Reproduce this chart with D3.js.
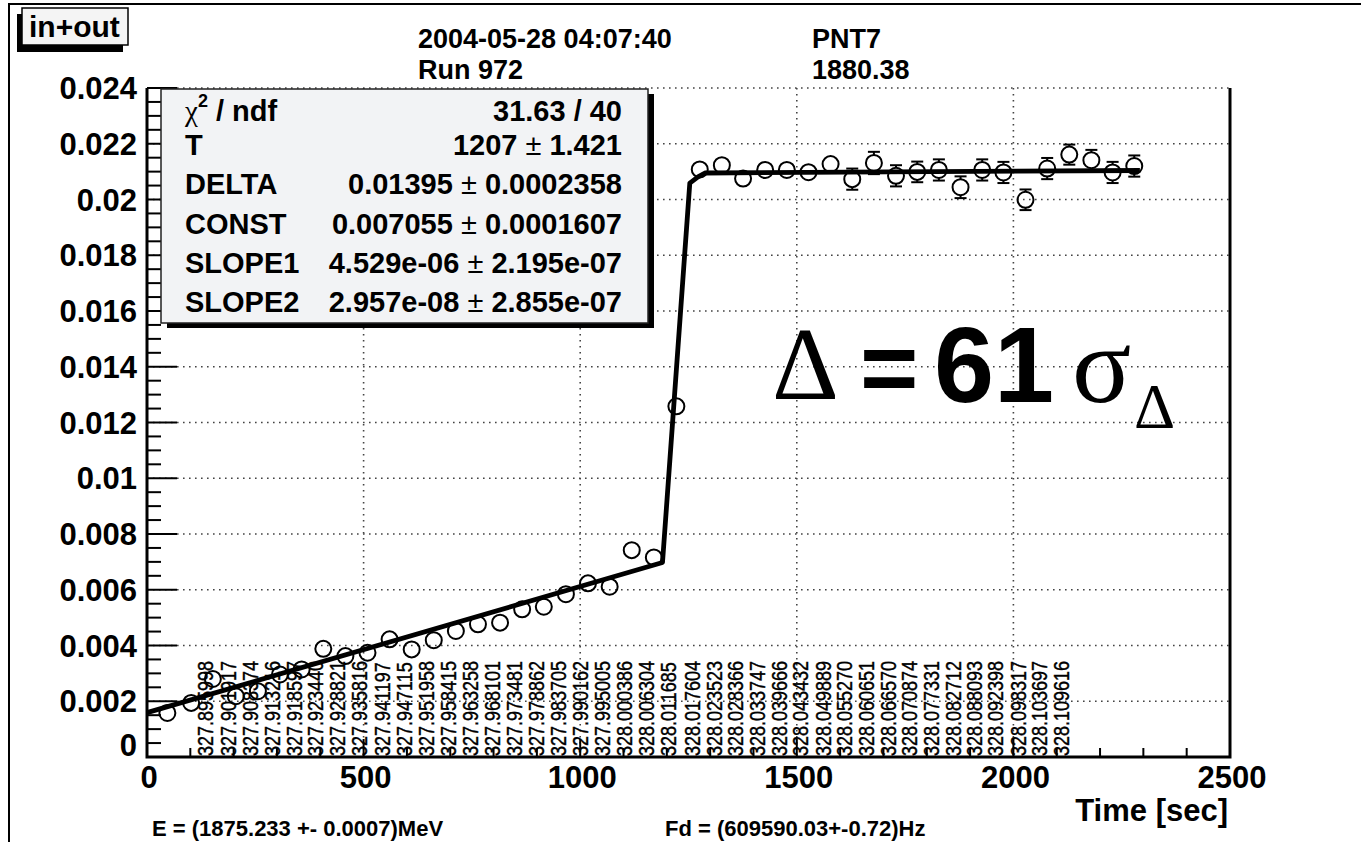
<!DOCTYPE html>
<html lang="en">
<head>
    <meta charset="UTF-8">
    <title>in+out - Run 972</title>
    <style>
        body {
            margin: 0;
            padding: 0;
            background-color: #fff;
        }

        svg text {
            font-family: 'Liberation Sans', Arial, Helvetica, sans-serif;
            fill: #000;
        }

        .bold {
            font-weight: bold;
        }

        .serif {
            font-family: 'Liberation Serif', 'DejaVu Serif', serif;
        }
    </style>
</head>
<body>

    <div id="chart"></div>

    <script src="https://d3js.org/d3.v7.min.js"></script>
    <script>
        // measured points (time in sec, asymmetry value, error)
        const pointTime = [47, 102, 152, 205, 256, 307, 357, 407, 458, 509, 560, 611,
            662, 713, 764, 815, 866, 916, 967, 1018, 1068, 1119, 1170, 1222,
            1276, 1327, 1376, 1427, 1477, 1527, 1578, 1628, 1678, 1729, 1778,
            1828, 1878, 1928, 1977, 2028, 2078, 2129, 2180, 2229, 2279];
        const pointValue = [0.00158, 0.00194, 0.00280, 0.00218, 0.00236, 0.00296, 0.00314,
            0.00388, 0.00362, 0.00374, 0.00422, 0.00386, 0.00419, 0.00452, 0.00476,
            0.00482, 0.00530, 0.00539, 0.00584, 0.00623, 0.00611, 0.00742, 0.00716,
            0.01258,
            0.02108, 0.02123, 0.02075, 0.02106, 0.02106, 0.02098, 0.02127, 0.02073,
            0.02131, 0.02085, 0.02099, 0.02106, 0.02044, 0.02106, 0.02097, 0.01999,
            0.02111, 0.02161, 0.02141, 0.02097, 0.02120];
        const pointError = [0.00012, 0.00012, 0.00013, 0.00013, 0.00013, 0.00014, 0.00014,
            0.00014, 0.00015, 0.00015, 0.00015, 0.00016, 0.00016, 0.00016, 0.00017,
            0.00017, 0.00017, 0.00018, 0.00018, 0.00018, 0.00019, 0.00019, 0.00020,
            0.00021,
            0.00025, 0.00025, 0.00026, 0.00026, 0.00026, 0.00027, 0.00027, 0.00038,
            0.00040, 0.00038, 0.00037, 0.00038, 0.00039, 0.00038, 0.00038, 0.00037,
            0.00038, 0.00036, 0.00037, 0.00038, 0.00038];

        // energy labels written over points 3..42
        const energyLabels = ["327.895998", "327.901917", "327.908374", "327.913216",
            "327.918597", "327.923440", "327.928821", "327.935816", "327.941197",
            "327.947115", "327.951958", "327.958415", "327.963258", "327.968101",
            "327.973481", "327.978862", "327.983705", "327.990162", "327.995005",
            "328.000386", "328.006304", "328.011685", "328.017604", "328.023523",
            "328.028366", "328.033747", "328.039666", "328.043432", "328.049889",
            "328.055270", "328.060651", "328.066570", "328.070874", "328.077331",
            "328.082712", "328.088093", "328.092398", "328.098317", "328.103697",
            "328.109616"];

        // fitted curve
        const fitTime = [0, 1190, 1253, 1272, 1288, 2292];
        const fitValue = [0.00159, 0.00698, 0.02059, 0.02081, 0.02095, 0.02104];

        // fit statistics box
        const statNames = ["/ ndf", "T", "DELTA", "CONST", "SLOPE1", "SLOPE2"];
        const statValues = [["31.63 / 40"], ["1207", "1.421"], ["0.01395", "0.0002358"],
            ["0.007055", "0.0001607"], ["4.529e-06", "2.195e-07"], ["2.957e-08", "2.855e-07"]];

        const xTicks = [0, 500, 1000, 1500, 2000, 2500];
        const yTicks = [0, 0.002, 0.004, 0.006, 0.008, 0.01, 0.012, 0.014, 0.016, 0.018, 0.02, 0.022, 0.024];
        const yTickLabels = ["0", "0.002", "0.004", "0.006", "0.008", "0.01", "0.012", "0.014",
            "0.016", "0.018", "0.02", "0.022", "0.024"];

        const width = 1361;
        const height = 842;
        const plot = { left: 147, right: 1230, top: 88, bottom: 757 };

        const x = d3.scaleLinear().domain([0, 2500]).range([plot.left, plot.right]);
        const y = d3.scaleLinear().domain([0, 0.024]).range([plot.bottom, plot.top]);

        const svg = d3.select("#chart")
            .append("svg")
            .attr("width", width)
            .attr("height", height);

        // outer canvas border
        svg.append("path")
            .attr("d", `M9,${height} L9,4 L${width},4`)
            .attr("fill", "none")
            .attr("stroke", "#000")
            .attr("stroke-width", 2);

        // grid
        const grid = svg.append("g")
            .attr("stroke", "#444")
            .attr("stroke-width", 1.6)
            .attr("stroke-dasharray", "1.6,4.4");
        grid.selectAll("line.gy")
            .data(yTicks.slice(1))
            .enter().append("line")
            .attr("x1", plot.left).attr("x2", plot.right)
            .attr("y1", d => y(d)).attr("y2", d => y(d));
        grid.selectAll("line.gx")
            .data(xTicks.slice(1, -1))
            .enter().append("line")
            .attr("x1", d => x(d)).attr("x2", d => x(d))
            .attr("y1", plot.top).attr("y2", plot.bottom);

        // vertical energy labels (glyphs a bit wider, like the original)
        svg.append("g")
            .selectAll("text")
            .data(energyLabels)
            .enter().append("text")
            .attr("transform", (d, i) => `translate(${x(pointTime[i + 2])},${plot.bottom - 1}) rotate(-90) scale(1,1.2)`)
            .attr("font-size", 18)
            .attr("stroke", "#000")
            .attr("stroke-width", 0.35)
            .text(d => d);

        // axis ticks
        const ticks = svg.append("g").attr("stroke", "#000").attr("stroke-width", 2);
        ticks.selectAll("line.ym")
            .data(d3.range(0, 49).map(i => i * 0.0005))
            .enter().append("line")
            .attr("x1", plot.left)
            .attr("x2", (d, i) => plot.left + (i % 4 === 0 ? 30 : 14))
            .attr("y1", d => y(d)).attr("y2", d => y(d));
        ticks.selectAll("line.xm")
            .data(d3.range(0, 26).map(i => i * 100))
            .enter().append("line")
            .attr("x1", d => x(d)).attr("x2", d => x(d))
            .attr("y1", plot.bottom)
            .attr("y2", (d, i) => plot.bottom - (i % 5 === 0 ? 18 : 9));

        // frame: left axis, bottom axis, right edge
        svg.append("path")
            .attr("d", `M${plot.left},${plot.top} L${plot.left},${plot.bottom} L${plot.right},${plot.bottom} L${plot.right},${plot.top}`)
            .attr("fill", "none")
            .attr("stroke", "#000")
            .attr("stroke-width", 3);

        // tick labels
        svg.append("g")
            .selectAll("text")
            .data(yTicks)
            .enter().append("text")
            .attr("class", "bold")
            .attr("x", 137)
            .attr("y", (d, i) => y(d) + (i === 0 ? -1 : 11))
            .attr("text-anchor", "end")
            .attr("font-size", 31)
            .text((d, i) => yTickLabels[i]);

        svg.append("g")
            .selectAll("text")
            .data(xTicks)
            .enter().append("text")
            .attr("class", "bold")
            .attr("x", d => x(d) + 2)
            .attr("y", 788)
            .attr("text-anchor", "middle")
            .attr("font-size", 31)
            .text(d => d);

        svg.append("text")
            .attr("class", "bold")
            .attr("x", 1228)
            .attr("y", 821)
            .attr("text-anchor", "end")
            .attr("font-size", 31)
            .text("Time [sec]");

        // error bars (only the part outside the marker shows)
        const r = 8;
        const bars = svg.append("g").attr("stroke", "#000").attr("stroke-width", 2);
        pointTime.forEach((t, i) => {
            const cx = x(t);
            const cy = y(pointValue[i]);
            const e = y(0) - y(pointError[i]);
            if (e <= r) return;
            bars.append("line").attr("x1", cx).attr("x2", cx).attr("y1", cy - e).attr("y2", cy - r);
            bars.append("line").attr("x1", cx).attr("x2", cx).attr("y1", cy + r).attr("y2", cy + e);
            bars.append("line").attr("x1", cx - 6).attr("x2", cx + 6).attr("y1", cy - e).attr("y2", cy - e);
            bars.append("line").attr("x1", cx - 6).attr("x2", cx + 6).attr("y1", cy + e).attr("y2", cy + e);
        });

        // markers
        svg.append("g")
            .selectAll("circle")
            .data(pointTime)
            .enter().append("circle")
            .attr("cx", d => x(d))
            .attr("cy", (d, i) => y(pointValue[i]))
            .attr("r", r)
            .attr("fill", "none")
            .attr("stroke", "#000")
            .attr("stroke-width", 2);

        // fit
        const line = d3.line()
            .x((d, i) => x(fitTime[i]))
            .y(d => y(d));
        svg.append("path")
            .attr("d", line(fitValue))
            .attr("fill", "none")
            .attr("stroke", "#000")
            .attr("stroke-width", 4.8)
            .attr("stroke-linejoin", "round");

        // stats box
        const box = { x: 161, y: 89, w: 487, h: 234 };
        svg.append("rect")
            .attr("x", box.x + 6).attr("y", box.y + 5)
            .attr("width", box.w).attr("height", box.h)
            .attr("fill", "#000");
        svg.append("rect")
            .attr("x", box.x).attr("y", box.y)
            .attr("width", box.w).attr("height", box.h)
            .attr("fill", "#f2f3f5")
            .attr("stroke", "#222")
            .attr("stroke-width", 1.5);

        const rowY = [121, 155, 194, 234, 273, 312];
        statNames.forEach((name, i) => {
            const t = svg.append("text")
                .attr("class", "bold")
                .attr("x", 185)
                .attr("y", rowY[i])
                .attr("font-size", 29);
            if (i === 0) {
                t.append("tspan").attr("class", "serif").attr("font-weight", "normal").text("χ");
                t.append("tspan").attr("font-size", 18).attr("dy", -14).text("2");
                t.append("tspan").attr("dy", 14).text(" " + name);
            } else {
                t.text(name);
            }

            const v = svg.append("text")
                .attr("class", "bold")
                .attr("x", 622)
                .attr("y", rowY[i])
                .attr("text-anchor", "end")
                .attr("font-size", 29);
            const vals = statValues[i];
            v.append("tspan").text(vals[0]);
            if (vals.length > 1) {
                v.append("tspan").attr("font-weight", "normal").text(" \u00b1 ");
                v.append("tspan").text(vals[1]);
            }
        });

        // significance annotation
        svg.append("text")
            .attr("class", "serif")
            .attr("x", 772).attr("y", 399)
            .attr("font-size", 104)
            .text("Δ");
        svg.append("text")
            .attr("class", "bold")
            .attr("x", 860).attr("y", 402)
            .attr("font-size", 100)
            .text("=");
        svg.append("text")
            .attr("class", "bold")
            .attr("x", 934).attr("y", 402)
            .attr("font-size", 108)
            .text("61");
        svg.append("text")
            .attr("class", "serif")
            .attr("x", 1072).attr("y", 402)
            .attr("font-size", 110)
            .text("σ");
        svg.append("text")
            .attr("class", "serif")
            .attr("x", 1134).attr("y", 428)
            .attr("font-size", 64)
            .text("Δ");

        // header
        svg.append("rect")
            .attr("x", 17).attr("y", 14)
            .attr("width", 106).attr("height", 38)
            .attr("fill", "#000");
        svg.append("rect")
            .attr("x", 22).attr("y", 8)
            .attr("width", 106).attr("height", 37)
            .attr("fill", "#f4f4f4")
            .attr("stroke", "#000")
            .attr("stroke-width", 1.5);
        svg.append("text")
            .attr("class", "bold")
            .attr("x", 29).attr("y", 37)
            .attr("font-size", 30)
            .text("in+out");

        const header = [
            ["2004-05-28 04:07:40", 418, 48], ["Run 972", 418, 79],
            ["PNT7", 812, 48], ["1880.38", 812, 79]
        ];
        svg.append("g")
            .selectAll("text")
            .data(header)
            .enter().append("text")
            .attr("class", "bold")
            .attr("x", d => d[1]).attr("y", d => d[2])
            .attr("font-size", 27)
            .text(d => d[0]);

        // beam info at the bottom
        svg.append("text")
            .attr("class", "bold")
            .attr("x", 152).attr("y", 836)
            .attr("font-size", 22)
            .text("E = (1875.233 +- 0.0007)MeV");
        svg.append("text")
            .attr("class", "bold")
            .attr("x", 665).attr("y", 836)
            .attr("font-size", 22)
            .text("Fd = (609590.03+-0.72)Hz");
    </script>

</body>
</html>
